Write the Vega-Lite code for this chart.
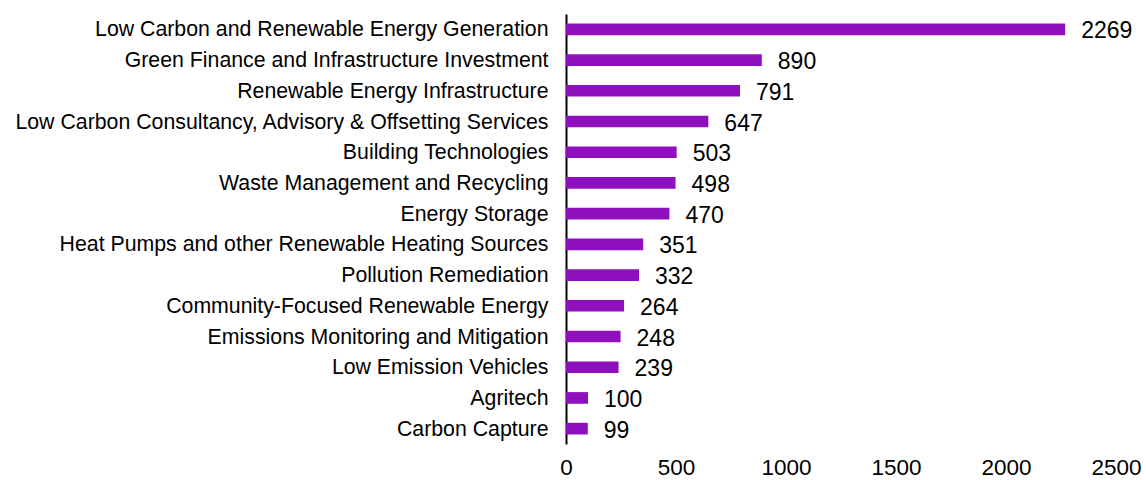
{
  "$schema": "https://vega.github.io/schema/vega-lite/v6.json",
  "autosize": "none",
  "padding": {"left": 566, "top": 14, "right": 30, "bottom": 36},
  "width": 550,
  "height": 430,
  "background": "white",
  "config": {"view": {"stroke": null}, "font": "Liberation Sans"},
  "data": {"values": [
    {"category": "Low Carbon and Renewable Energy Generation", "value": 2269},
    {"category": "Green Finance and Infrastructure Investment", "value": 890},
    {"category": "Renewable Energy Infrastructure", "value": 791},
    {"category": "Low Carbon Consultancy, Advisory & Offsetting Services", "value": 647},
    {"category": "Building Technologies", "value": 503},
    {"category": "Waste Management and Recycling", "value": 498},
    {"category": "Energy Storage", "value": 470},
    {"category": "Heat Pumps and other Renewable Heating Sources", "value": 351},
    {"category": "Pollution Remediation", "value": 332},
    {"category": "Community-Focused Renewable Energy", "value": 264},
    {"category": "Emissions Monitoring and Mitigation", "value": 248},
    {"category": "Low Emission Vehicles", "value": 239},
    {"category": "Agritech", "value": 100},
    {"category": "Carbon Capture", "value": 99}
  ]},
  "encoding": {
    "y": {"field": "category", "type": "nominal", "sort": null,
      "scale": {"paddingInner": 0.62, "paddingOuter": 0.31},
      "axis": {"title": null, "ticks": false, "labelPadding": 18, "labelFontSize": 21.3, "labelColor": "#000000", "labelLimit": 700, "labelOffset": 1, "domainColor": "#000000", "domainWidth": 2}},
    "x": {"field": "value", "type": "quantitative",
      "scale": {"domain": [0, 2500], "nice": false},
      "axis": {"title": null, "values": [0, 500, 1000, 1500, 2000, 2500], "format": "d", "grid": false, "domain": false, "ticks": false, "labelPadding": 12, "labelFontSize": 22.5, "labelColor": "#000000", "labelFlush": false}}
  },
  "layer": [
    {"mark": {"type": "bar", "color": "#8E10BC"}},
    {"mark": {"type": "text", "align": "left", "dx": 16, "fontSize": 23, "color": "#000000", "baseline": "middle", "dy": 2},
     "encoding": {"text": {"field": "value", "type": "quantitative", "format": "d"}}}
  ]
}
